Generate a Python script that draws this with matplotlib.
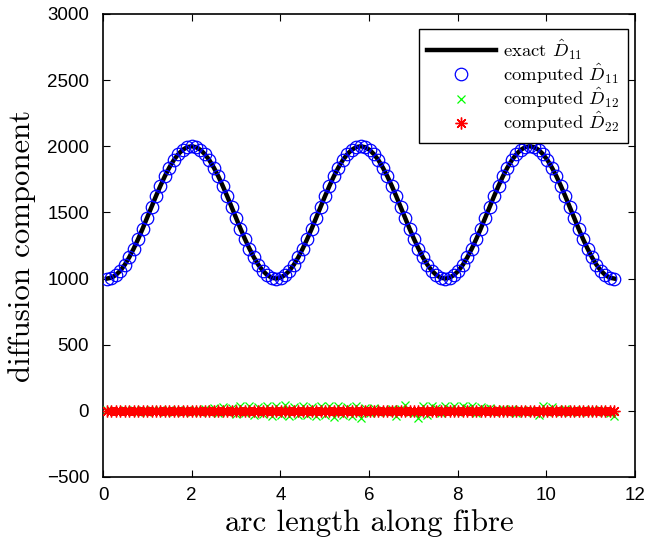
import numpy as np
import matplotlib
matplotlib.use("Agg")
import matplotlib.pyplot as plt

# arc length grid along the fibre (115 samples)
s_start, s_end, n_pts = 0.09, 11.53, 115
arc = np.linspace(s_start, s_end, n_pts)

# exact / computed D11
d11 = [1000, 1007, 1027, 1060, 1105, 1161, 1227, 1299, 1377, 1459, 1541, 1623, 1701, 1774, 1839, 1895, 1940, 1973, 1993,
       2000, 1993, 1973, 1940, 1895, 1839, 1774, 1701, 1623, 1541, 1459, 1377, 1299, 1227, 1161, 1105, 1060, 1027, 1007,
       1000, 1007, 1027, 1060, 1105, 1161, 1227, 1299, 1377, 1459, 1541, 1623, 1701, 1774, 1839, 1895, 1940, 1973, 1993,
       2000, 1993, 1973, 1940, 1895, 1839, 1774, 1701, 1623, 1541, 1459, 1377, 1299, 1227, 1161, 1105, 1060, 1027, 1007,
       1000, 1007, 1027, 1060, 1105, 1161, 1227, 1299, 1377, 1459, 1541, 1623, 1701, 1774, 1839, 1895, 1940, 1973, 1993,
       2000, 1993, 1973, 1940, 1895, 1839, 1774, 1701, 1623, 1541, 1459, 1377, 1299, 1227, 1161, 1105, 1060, 1027, 1007,
       1000]

# computed D12 (noisy around zero)
d12 = [3, -4, 2, -3, 5, -2, 4, -6, 3, -5, 6, -4, 8, -6, 5, -9, 7, -10, 6, -8, 10, -12,
       15, -12, 25, -18, 30, -10, 22, -25,
       35, -20, 40, -35, 30, -25, 38, -40, 35, -30, 42, -38, 30, -35, 40, -32, 28, -40, 35, -30,
       38, -45, 40, -35, 30, -38, 35, -55,
       20, -15, 18, -12, 10, -8, 15, -40,
       15, 42, -12, -20, -55, 38, -35, 40, 25, -20, 38, 15, 35, -10, 38, 20, 35, -15, 30,
       12, 20, -8, 10, 15, -10, 12, -15, 8, -12, 10, -8,
       -30, 35, -12, 30,
       10, -8, 12, -6, 8, -10, 6, -8, 10, -6, 8, -10, -15, -40]

# computed D22 (essentially zero)
d22 = [0, 1, -1, 0, 2, -1, 1, 0, -2, 1, 0, -1, 2, 0, -1, 1, 0, -2, 1, 0, 2, -1, 0, 1, -1,
       0, 2, -2, 1, 0, -1, 1, 2, -1, 0, 1, -2, 0, 1, -1, 2, 0, -1, 1, 0, -2, 1, 2, -1,
       0, 1, -1, 0, 2, -1, 1, 0, -2, 1, 0, -1, 2, 0, -1, 1, 0, -2, 1, 0, 2, -1, 0, 1,
       -1, 0, 2, -2, 1, 0, -1, 1, 2, -1, 0, 1, -2, 0, 1, -1, 2, 0, -1, 1, 0, -2, 1, 0,
       1, -1, 0, 2, -1, 0, 1, -2, 0, 1, -1, 0, 1, 0, -1, 0, 1, 0]

plt.rcParams['mathtext.fontset'] = 'cm'
plt.rcParams['font.family'] = ['Liberation Sans', 'DejaVu Sans']

fig = plt.figure(figsize=(6.48, 5.38), dpi=100)
ax = fig.add_axes([0.159, 0.1134, 0.821, 0.8606])

ax.plot(arc, d11, 'k-', lw=3.2, label=r'exact $\hat{D}_{11}$', zorder=2)
ax.plot(arc, d11, 'o', mec=(0, 0, 1), mfc='none', ms=9, mew=0.9, label=r'computed $\hat{D}_{11}$', zorder=3)
ax.plot(arc, d12, 'x', color=(0, 1, 0), ms=6, mew=0.9, label=r'computed $\hat{D}_{12}$', zorder=4)
ax.plot(arc, d22, marker=(8, 2, 0), ls='none', color=(1, 0, 0), ms=8.5, mew=1.0,
        label=r'computed $\hat{D}_{22}$', zorder=5)

ax.set_xlim(0, 12)
ax.set_ylim(-500, 3000)
ax.set_xticks(np.arange(0, 13, 2))
ax.set_yticks(np.arange(-500, 3001, 500))
ax.set_yticklabels(['\u2212500'] + [str(v) for v in range(0, 3001, 500)])
ax.tick_params(direction='in', length=5, width=0.8, top=True, right=True, labelsize=13.5)
ax.tick_params(axis='y', pad=10)
ax.tick_params(axis='x', pad=7)
for sp in ax.spines.values():
    sp.set_linewidth(1.2)

ax.set_xlabel('arc length along fibre', fontname='cmr10', fontsize=22.2, labelpad=4)
ax.set_ylabel('diffusion component', fontname='cmr10', fontsize=22.2, labelpad=8)

leg = ax.legend(loc='upper right', bbox_to_anchor=(0.9868, 0.9676), borderaxespad=0,
                prop={'family': 'cmr10', 'size': 13.4}, handlelength=3.7,
                fancybox=False, edgecolor='k', framealpha=1,
                labelspacing=0.0, borderpad=0.45, handletextpad=0.4)
leg.get_frame().set_linewidth(1.0)

fig.savefig('out.png', dpi=100)
